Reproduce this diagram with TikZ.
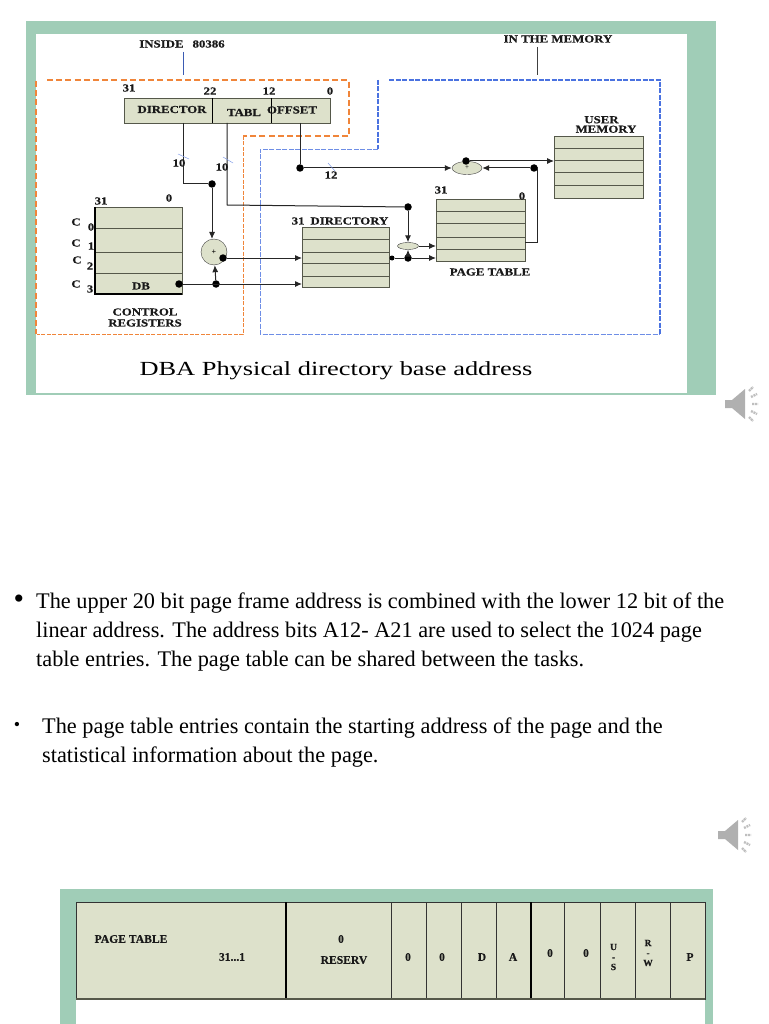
\documentclass[tikz,border=0pt]{standalone}
\usepackage{fontspec}
\setmainfont{Liberation Serif}
\newfontfamily\widefont[FakeStretch=1.2,FakeBold=0.4]{Liberation Serif}
\newfontfamily\tallfont[FakeBold=0.4]{Liberation Serif}
\newfontfamily\widerfont[FakeStretch=1.32]{Liberation Serif}
\usetikzlibrary{arrows.meta,shapes.geometric}
\definecolor{frameg}{HTML}{A0CDB7}
\definecolor{cellg}{HTML}{DDE1CB}
\definecolor{orangeD}{HTML}{F0853A}
\definecolor{blueD}{HTML}{4A72E0}
\definecolor{lineG}{HTML}{55584A}
\tikzset{
  x=1pt,y=-1pt,
  lab/.style={font=\widefont\bfseries\fontsize{10.7}{11}\selectfont,inner sep=0,text=black!90},
  tlab/.style={font=\tallfont\bfseries\fontsize{11.6}{12}\selectfont,inner sep=0,text=black!90},
  regbox/.style={draw=lineG,line width=1pt,fill=cellg,inner sep=0,anchor=north west},
  tcell/.style={draw=black!80,line width=.9pt,fill=cellg,inner sep=0,anchor=north west,minimum height=97pt},
  wire/.style={draw=black!85,line width=1pt},
  arr/.style={wire,-{Latex[length=7pt,width=6pt]}},
  dotn/.style={circle,fill=black,inner sep=0,minimum size=7.5pt},
  addc/.style={circle,draw=black!75,fill=cellg,inner sep=0,minimum size=26pt,font=\bfseries\fontsize{8}{8}\selectfont},
  adde/.style={ellipse,draw=black!75,fill=cellg,inner sep=0,font=\fontsize{7}{7}\selectfont},
  orangeThick/.style={draw=orangeD,line width=1.5pt,dash pattern=on 6pt off 3.2pt},
  orangeThin/.style={draw=orangeD,line width=.7pt,dash pattern=on 4pt off 1.5pt},
  blueThick/.style={draw=blueD,line width=1.3pt,dash pattern=on 5pt off 1.5pt},
  blueThin/.style={draw=blueD!80,line width=.7pt,dash pattern=on 5pt off 1.5pt},
  para/.style={font=\fontsize{22.3}{29}\selectfont,inner sep=0,anchor=north west,align=left},
  slashm/.style={draw=blueD!70,line width=.5pt},
  speaker/.pic={
    \fill[gray!62] (0,10) -- (7,10) -- (20,-1) -- (20,29) -- (7,18) -- (0,18) -- cycle;
    \draw[gray!50,line width=2.4pt,dash pattern=on 2pt off .8pt]
      (24,1) -- (28,-3) (26,7) -- (32,4) (27,14) -- (33,14) (26,21) -- (32,24) (24,27) -- (28,31);
  }
}
\begin{document}
\begin{tikzpicture}
\useasboundingbox (0,0) rectangle (768,1024);
\fill[white] (0,0) rectangle (768,1024);
% upper frame
\fill[frameg] (26,21) rectangle (716,395);
\fill[white] (36,34) rectangle (687,393);
% dashed zones
\draw[orangeThick] (47,80) -- (349,80) -- (349,136) -- (243,136);
\draw[orangeThick] (36,81) -- (36,334);
\draw[orangeThin] (243,136) -- (243,334) -- (37,334);
\draw[blueThick] (389,80) -- (660,80) -- (660,334);
\draw[blueThick] (378,80) -- (378,149);
\draw[blueThin] (378,149) -- (260,149) -- (260,334) -- (660,334);
% headings
\node[lab] (inside) at (182,44) {INSIDE\hspace{9pt}80386};
\node[lab] (inmem) at (558,39) {IN THE MEMORY};
\coordinate (insideEnd) at (183,75);
\coordinate (inmemEnd) at (537,75);
\draw[blueD!80!black,line width=.6pt] (183,52) -- (insideEnd);
\draw[black!75,line width=.8pt] (537,47) -- (inmemEnd);
% linear address register
\node[regbox,minimum width=88pt,minimum height=25pt] (fdir) at (124,98) {};
\node[regbox,minimum width=59pt,minimum height=25pt] (ftab) at (212,98) {};
\node[regbox,minimum width=59pt,minimum height=25pt] (foff) at (271,98) {};
\draw[black,line width=.9pt] (212,98) -- (212,123) (271,98) -- (271,123);
\node[lab] (tdir) at (172,109.5) {DIRECTOR};
\node[lab] (ttab) at (244,112.5) {TABL};
\node[lab] (toff) at (292,110) {OFFSET};
\node[lab] (b31) at (129,88) {31};
\node[lab] (b22) at (210,91) {22};
\node[lab] (b12) at (269,91) {12};
\node[lab] (b0) at (330,91) {0};
% control registers
\node[regbox,minimum width=87pt,minimum height=87pt] (ctrl) at (95,207) {};
\draw[lineG,line width=1pt] (95,229) -- (182,229) (95,252) -- (182,252) (95,273) -- (182,273);
\draw[black,line width=1.3pt] (95,207) -- (95,294) -- (182,294);
\node[lab] (c31) at (101,201) {31};
\node[lab] (c00) at (169,198) {0};
\node[lab] (cC0) at (76,222) {C};
\node[lab] (cn0) at (91,227) {0};
\node[lab] (cC1) at (76,243) {C};
\node[lab] (cn1) at (91,246) {1};
\node[lab] (cC2) at (77,260) {C};
\node[lab] (cn2) at (90,266) {2};
\node[lab] (cC3) at (76,284) {C};
\node[lab] (cn3) at (90,289) {3};
\node[lab] (db) at (141,286) {DB};
\node[lab,align=center,font=\widefont\bfseries\fontsize{10.7}{11}\selectfont] (ctrllab) at (145,317.5) {CONTROL\\REGISTERS};
% directory
\node[regbox,minimum width=87pt,minimum height=60pt] (dirt) at (302,227) {};
\draw[lineG,line width=1pt] (302,239) -- (389,239) (302,252) -- (389,252) (302,263) -- (389,263) (302,276) -- (389,276);
\node[lab] (dirlab) at (340,221) {31\hspace{6pt}DIRECTORY};
% page table
\node[regbox,minimum width=89pt,minimum height=62pt] (ptab) at (436,199) {};
\draw[lineG,line width=1pt] (436,212) -- (525,212) (436,224) -- (525,224) (436,237) -- (525,237) (436,249) -- (525,249);
\node[lab] (p31) at (441,190) {31};
\node[lab] (p0) at (522,196) {0};
\node[lab] (ptlab) at (490,272) {PAGE TABLE};
% user memory
\node[regbox,minimum width=89pt,minimum height=62pt] (umem) at (554,136) {};
\draw[lineG,line width=1pt] (554,149) -- (643,149) (554,161) -- (643,161) (554,173) -- (643,173) (554,186) -- (643,186);
\node[lab,align=center,font=\widefont\bfseries\fontsize{10.7}{9.5}\selectfont] (umlab) at (606,124.5) {\hspace{-9pt}USER\\MEMORY};
% adders and junctions
\node[addc] (add1) at (214,252) {+};
\node[adde,minimum width=30pt,minimum height=13pt] (add3) at (467,168) {+};
\node[adde,minimum width=21pt,minimum height=7pt] (add2) at (408,246) {};
\node[dotn] (j1) at (212,184) {};
\node[dotn] (j2) at (300,168) {};
\node[dotn] (j3) at (408,207) {};
\node[dotn] (j4) at (408,258) {};
\node[dotn] (j5) at (179,284) {};
\node[dotn] (j6) at (216,284) {};
\node[dotn] (j7) at (223,258) {};
\node[dotn] (j8) at (534,168) {};
\node[dotn] (j9) at (466,161) {};
\node[dotn,minimum size=5pt] (j10) at (392,258) {};
% connectors
\draw[wire] (183,123) -- (183,184) -- (j1);
\draw[arr] (j1) -- (212,239);
\draw[wire] (227,123) -- (227,205) -- (j3);
\draw[arr] (j3) -- (add2);
\draw[wire] (300,123) -- (j2);
\draw[arr] (j2) -- (add3);
\draw[arr] (j8) -- (add3);
\draw[arr] (j9) -- (umem.west |- j9);
\draw[wire] (j8) -- (537,168) -- (537,242) -- (525,242);
\draw[arr] (j5) -- (dirt.west |- j5);
\draw[arr] (j6) -- (add1);
\draw[arr] (j7) -- (dirt.west |- j7);
\draw[wire] (j10) -- (j4);
\draw[arr] (j4) -- (ptab.west |- j4);
\draw[arr] (j4) -- (add2);
\draw[arr] (add2) -- (ptab.west |- add2);
% width marks
\draw[slashm] (178,154) -- (189,159);
\draw[slashm] (223,157) -- (233,163);
\draw[slashm] (328,163) -- (335,171);
\node[lab] (w1) at (179,163) {10};
\node[lab] (w2) at (222,167) {10};
\node[lab] (w3) at (331,175) {12};
% caption
\node[font=\widerfont\fontsize{20}{20}\selectfont,inner sep=0] (cap) at (336,371) {DBA Physical directory base address};
% speakers
\pic at (725,390) {speaker};
\pic at (718,821) {speaker};
% paragraphs
\node[inner sep=0,font=\fontsize{30}{30}\selectfont] (bul1) at (19,602) {•};
\node[para] (p1) at (36,593) {The upper 20 bit page frame address is combined with the lower 12 bit of the\\linear address. The address bits A12- A21 are used to select the 1024 page\\table entries. The page table can be shared between the tasks.};
\node[inner sep=0,font=\fontsize{18}{18}\selectfont] (bul2) at (17,726) {•};
\node[para] (p2) at (42,718) {The page table entries contain the starting address of the page and the\\statistical information about the page.};
% lower frame
\fill[frameg] (60,889) rectangle (713,1024);
\fill[white] (76,902) rectangle (705,1024);
\node[tcell,minimum width=210pt] (c1) at (76,902) {};
\node[tcell,minimum width=105pt] (c2) at (286,902) {};
\node[tcell,minimum width=35pt] (c3) at (391,902) {};
\node[tcell,minimum width=35pt] (c4) at (426,902) {};
\node[tcell,minimum width=35pt] (c5) at (461,902) {};
\node[tcell,minimum width=35pt] (c6) at (496,902) {};
\node[tcell,minimum width=33pt] (c7) at (531,902) {};
\node[tcell,minimum width=36pt] (c8) at (564,902) {};
\node[tcell,minimum width=35pt] (c9) at (600,902) {};
\node[tcell,minimum width=35pt] (c10) at (635,902) {};
\node[tcell,minimum width=35pt] (c11) at (670,902) {};
\draw[black,line width=1.3pt] (286,902) -- (286,999) (531,902) -- (531,999);
\draw[lineG,line width=1.3pt] (76,999) -- (705,999);
\node[tlab] (t1) at (131,939) {PAGE TABLE};
\node[tlab] (t2) at (232,957) {31...1};
\node[tlab] (t3) at (341,939) {0};
\node[tlab] (t4) at (344,960) {RESERV};
\node[tlab] (t5) at (408,957) {0};
\node[tlab] (t6) at (442,957) {0};
\node[tlab] (t7) at (482,957) {D};
\node[tlab] (t8) at (513,957) {A};
\node[tlab] (t9) at (550,953) {0};
\node[tlab] (t10) at (586,953) {0};
\node[tlab,align=center,font=\tallfont\bfseries\fontsize{9.5}{10}\selectfont] (t11) at (613.5,957) {U\\-\\S};
\node[tlab,align=center,font=\tallfont\bfseries\fontsize{9.5}{10}\selectfont] (t12) at (648,953) {R\\-\\W};
\node[tlab] (t13) at (690,957) {P};
\end{tikzpicture}
\end{document}
